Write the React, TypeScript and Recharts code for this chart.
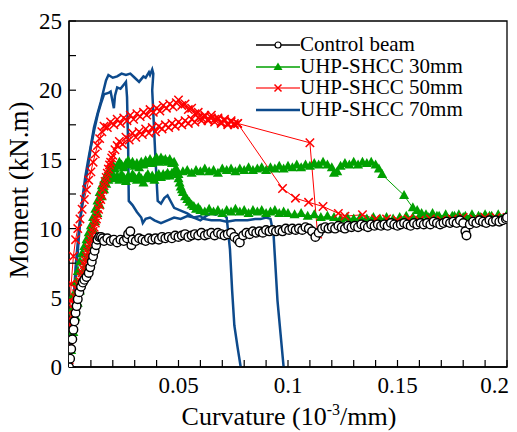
import React from "react";
import { ComposedChart, Line, XAxis, YAxis, Legend, ReferenceArea } from "recharts";

type Pt = [number, number];

const FONT = "'Liberation Serif', 'Times New Roman', serif";

// curvature (1e-3/mm), moment (kN.m)
const controlBeam: Pt[] = [
  [0, 0], [0.0005, 0.6], [0.001, 1.3], [0.0015, 2.0], [0.002, 2.7], [0.0025, 3.3], [0.003, 3.9],
  [0.0035, 4.4], [0.004, 4.9], [0.0047, 5.4], [0.0055, 5.8], [0.0063, 6.1], [0.007, 6.3], [0.008, 6.5],
  [0.009, 6.8], [0.0097, 7.2], [0.0104, 7.6], [0.011, 8.0], [0.0117, 8.4], [0.0124, 8.8], [0.013, 9.2],
  [0.0138, 9.4], [0.0146, 9.4], [0.0153, 9.3], [0.016, 9.1], [0.0175, 9.3], [0.019, 9.1], [0.0205, 9.2],
  [0.022, 9.0], [0.0235, 9.2], [0.025, 9.1], [0.0265, 9.3], [0.027, 9.6], [0.028, 9.8], [0.0285, 8.8],
  [0.029, 9.2], [0.0305, 9.1], [0.032, 9.3], [0.0335, 9.2], [0.035, 9.1], [0.0365, 9.3], [0.038, 9.2],
  [0.0395, 9.3], [0.041, 9.2], [0.0425, 9.4], [0.044, 9.3], [0.0455, 9.4], [0.047, 9.3], [0.0485, 9.5],
  [0.05, 9.4], [0.0515, 9.5], [0.053, 9.6], [0.0545, 9.4], [0.056, 9.5], [0.0575, 9.6], [0.059, 9.5],
  [0.0605, 9.7], [0.062, 9.5], [0.0635, 9.6], [0.065, 9.7], [0.0665, 9.5], [0.068, 9.7], [0.0695, 9.6],
  [0.071, 9.5], [0.0725, 9.6], [0.074, 9.7], [0.0755, 9.4], [0.077, 9.2], [0.078, 9.0], [0.0795, 9.5],
  [0.081, 9.7], [0.0825, 9.6], [0.084, 9.8], [0.0855, 9.7], [0.087, 9.8], [0.0885, 9.7], [0.09, 9.9],
  [0.0915, 9.8], [0.093, 9.9], [0.0945, 9.8], [0.096, 9.9], [0.0975, 9.8], [0.099, 10.0], [0.1005, 9.9],
  [0.102, 10.0], [0.1035, 9.9], [0.105, 10.0], [0.1065, 9.9], [0.108, 10.1], [0.1095, 10.0], [0.111, 9.8],
  [0.1125, 9.4], [0.114, 9.7], [0.1155, 10.0], [0.117, 10.1], [0.1185, 10.0], [0.12, 10.1], [0.1215, 10.0],
  [0.123, 10.2], [0.1245, 10.1], [0.126, 10.0], [0.1275, 10.2], [0.129, 10.1], [0.1305, 10.2], [0.132, 10.1],
  [0.1335, 10.3], [0.135, 10.2], [0.1365, 10.1], [0.138, 10.3], [0.1395, 10.2], [0.141, 10.3], [0.1425, 10.2],
  [0.144, 10.3], [0.1455, 10.2], [0.147, 10.4], [0.1485, 10.3], [0.15, 10.2], [0.1515, 10.3], [0.153, 10.4],
  [0.1545, 10.3], [0.156, 10.2], [0.1575, 10.4], [0.159, 10.3], [0.1605, 10.4], [0.162, 10.3], [0.1635, 10.4],
  [0.165, 10.3], [0.1665, 10.5], [0.168, 10.4], [0.1695, 10.3], [0.171, 10.4], [0.1725, 10.5], [0.174, 10.4],
  [0.1755, 10.5], [0.177, 10.4], [0.1785, 10.6], [0.18, 10.4], [0.181, 9.8], [0.1815, 9.5], [0.183, 10.3],
  [0.1845, 10.5], [0.186, 10.4], [0.1875, 10.6], [0.189, 10.5], [0.1905, 10.4], [0.192, 10.6], [0.1935, 10.5],
  [0.195, 10.6], [0.1965, 10.5], [0.198, 10.6], [0.1995, 10.7], [0.2, 10.8],
];

// UHP-SHCC 30mm, specimen dropping early
const shcc30a: Pt[] = [
  [0, 0], [0.0005, 2.5], [0.001, 4.0], [0.002, 5.2], [0.003, 6.1], [0.004, 6.9], [0.005, 7.6], [0.006, 8.2],
  [0.007, 8.7], [0.008, 9.2], [0.009, 9.7], [0.01, 10.2], [0.011, 10.8], [0.012, 11.4], [0.013, 12.0],
  [0.014, 12.6], [0.015, 13.1], [0.016, 13.5], [0.017, 13.8], [0.018, 14.1], [0.019, 14.4], [0.02, 14.6],
  [0.021, 14.3], [0.022, 14.5], [0.023, 14.8], [0.024, 14.6], [0.025, 14.4], [0.026, 14.7], [0.027, 14.9],
  [0.028, 14.6], [0.029, 14.8], [0.03, 14.5], [0.031, 14.7], [0.032, 14.4], [0.033, 14.8], [0.034, 14.6],
  [0.035, 14.9], [0.036, 14.7], [0.037, 15.0], [0.038, 14.7], [0.039, 14.9], [0.04, 15.1], [0.041, 14.8],
  [0.042, 15.1], [0.043, 14.9], [0.044, 15.0], [0.045, 14.8], [0.046, 15.0], [0.047, 14.7], [0.048, 14.8],
  [0.049, 14.3], [0.0495, 13.9], [0.05, 13.6], [0.0505, 13.3], [0.051, 13.0], [0.0515, 12.8], [0.052, 12.6],
  [0.053, 12.3], [0.054, 12.1], [0.055, 11.9], [0.056, 11.7], [0.057, 11.6], [0.058, 11.4], [0.059, 11.5],
  [0.06, 11.3], [0.062, 11.2], [0.064, 11.4], [0.066, 11.2], [0.068, 11.3], [0.07, 11.1], [0.072, 11.3],
  [0.074, 11.2], [0.076, 11.4], [0.078, 11.2], [0.08, 11.3], [0.082, 11.1], [0.084, 11.3], [0.086, 11.2],
  [0.088, 11.3], [0.09, 11.1], [0.092, 11.2], [0.094, 11.3], [0.096, 11.1], [0.098, 11.2], [0.1, 11.1],
  [0.103, 11.0], [0.106, 11.1], [0.109, 10.9], [0.112, 11.0], [0.115, 10.8], [0.118, 10.9], [0.121, 10.8],
  [0.124, 10.7], [0.127, 10.8], [0.13, 10.7], [0.133, 10.8], [0.136, 10.7], [0.139, 10.8], [0.142, 10.7],
  [0.145, 10.8], [0.148, 10.7], [0.151, 10.8], [0.154, 10.9], [0.157, 10.8], [0.16, 10.9], [0.164, 10.8],
  [0.168, 10.9], [0.172, 10.8], [0.176, 10.9], [0.18, 10.8], [0.184, 10.9], [0.188, 10.8], [0.192, 10.9],
  [0.196, 10.9], [0.2, 10.9],
];

// UHP-SHCC 30mm, specimen holding to 0.14
const shcc30b: Pt[] = [
  [0, 0], [0.001, 1.2], [0.002, 2.5], [0.003, 3.6], [0.004, 4.6], [0.005, 5.5], [0.006, 6.3], [0.007, 7.1],
  [0.008, 7.9], [0.009, 8.6], [0.01, 9.3], [0.011, 9.9], [0.012, 10.5], [0.013, 11.1], [0.014, 11.7],
  [0.015, 12.3], [0.016, 12.8], [0.017, 13.2], [0.018, 13.5], [0.019, 13.7], [0.02, 13.9], [0.021, 13.6],
  [0.022, 13.8], [0.023, 13.5], [0.024, 13.9], [0.025, 13.7], [0.026, 13.4], [0.027, 13.8], [0.028, 13.6],
  [0.029, 13.9], [0.03, 13.7], [0.031, 13.5], [0.032, 13.8], [0.033, 13.6], [0.034, 13.3], [0.035, 13.7],
  [0.036, 13.9], [0.037, 13.6], [0.038, 13.8], [0.039, 13.5], [0.04, 13.8], [0.041, 13.9], [0.042, 13.7],
  [0.043, 13.9], [0.044, 13.8], [0.045, 14.0], [0.046, 13.8], [0.047, 14.0], [0.048, 14.1], [0.05, 13.9],
  [0.052, 14.1], [0.054, 14.2], [0.056, 14.0], [0.058, 14.2], [0.06, 14.1], [0.062, 14.3], [0.064, 14.1],
  [0.066, 14.2], [0.068, 14.0], [0.07, 14.3], [0.072, 14.2], [0.074, 14.3], [0.076, 14.1], [0.078, 14.3],
  [0.08, 14.2], [0.082, 14.4], [0.084, 14.2], [0.086, 14.3], [0.088, 14.4], [0.09, 14.2], [0.092, 14.4],
  [0.094, 14.3], [0.096, 14.5], [0.098, 14.3], [0.1, 14.5], [0.102, 14.4], [0.104, 14.6], [0.106, 14.4],
  [0.108, 14.6], [0.11, 14.5], [0.112, 14.7], [0.114, 14.6], [0.116, 14.8], [0.118, 14.6], [0.12, 14.4],
  [0.121, 14.0], [0.1225, 14.1], [0.124, 14.5], [0.126, 14.7], [0.128, 14.6], [0.13, 14.8], [0.132, 14.6],
  [0.134, 14.8], [0.136, 14.7], [0.138, 14.8], [0.14, 14.6], [0.1415, 14.3], [0.143, 13.9], [0.153, 12.4],
  [0.157, 11.5], [0.159, 11.3], [0.161, 11.1], [0.163, 11.0], [0.166, 11.1], [0.169, 10.9], [0.172, 11.0],
  [0.175, 10.9], [0.178, 11.0], [0.181, 10.9], [0.184, 11.0], [0.187, 10.9], [0.19, 11.0], [0.193, 10.9],
  [0.196, 11.0], [0.2, 11.0],
];

// UHP-SHCC 50mm, specimen peaking at 19.2
const shcc50a: Pt[] = [
  [0, 0], [0.0003, 3.0], [0.0006, 4.8], [0.001, 6.0], [0.002, 8.0], [0.003, 9.2], [0.004, 10.0], [0.005, 10.7],
  [0.006, 11.4], [0.007, 12.1], [0.008, 12.8], [0.009, 13.5], [0.01, 14.1], [0.011, 14.8], [0.012, 15.4],
  [0.013, 16.0], [0.014, 16.5], [0.015, 17.0], [0.016, 17.4], [0.0175, 17.3], [0.019, 17.7], [0.0205, 17.5],
  [0.022, 17.9], [0.0235, 17.6], [0.025, 18.0], [0.0265, 17.8], [0.028, 18.2], [0.0295, 17.9], [0.031, 18.3],
  [0.0325, 18.1], [0.034, 18.4], [0.0355, 18.2], [0.037, 18.6], [0.0385, 18.4], [0.04, 18.7], [0.0415, 18.5],
  [0.043, 18.9], [0.0445, 18.7], [0.046, 19.0], [0.0475, 18.8], [0.049, 19.1], [0.05, 19.3], [0.0515, 18.9],
  [0.053, 19.0], [0.0545, 18.6], [0.056, 18.7], [0.0575, 18.3], [0.059, 18.4], [0.0605, 18.0], [0.062, 18.2],
  [0.0635, 17.8], [0.065, 18.0], [0.0665, 17.7], [0.068, 17.9], [0.0695, 17.6], [0.071, 17.8], [0.0725, 17.5],
  [0.074, 17.7], [0.0755, 17.6], [0.077, 17.6], [0.11, 16.2], [0.1135, 9.6],
];

// UHP-SHCC 50mm, second specimen
const shcc50b: Pt[] = [
  [0, 0], [0.0005, 1.5], [0.001, 3.0], [0.0015, 3.7], [0.002, 4.2], [0.0025, 4.6], [0.003, 5.0], [0.0035, 5.3],
  [0.004, 5.6], [0.0045, 5.9], [0.005, 6.2], [0.0055, 6.5], [0.006, 6.8], [0.0065, 7.1], [0.007, 7.4],
  [0.0075, 7.7], [0.008, 8.0], [0.0085, 8.3], [0.009, 8.6], [0.0095, 8.9], [0.01, 9.2], [0.0105, 9.5],
  [0.011, 9.8], [0.0115, 10.1], [0.012, 10.4], [0.0125, 10.7], [0.013, 11.0], [0.0135, 11.4], [0.014, 11.7],
  [0.0145, 12.1], [0.015, 12.4], [0.0155, 12.8], [0.016, 13.1], [0.0165, 13.4], [0.017, 13.7], [0.0175, 14.0],
  [0.018, 14.3], [0.0185, 14.6], [0.019, 14.8], [0.0195, 15.1], [0.02, 15.3], [0.021, 15.7], [0.022, 16.0],
  [0.023, 16.3], [0.0245, 16.1], [0.026, 16.6], [0.0275, 16.4], [0.029, 16.9], [0.0305, 16.6], [0.032, 17.0],
  [0.0335, 16.8], [0.035, 17.2], [0.0365, 16.9], [0.038, 17.3], [0.0395, 17.0], [0.041, 17.4], [0.0425, 17.2],
  [0.044, 17.5], [0.0455, 17.3], [0.047, 17.6], [0.0485, 17.4], [0.05, 17.7], [0.0515, 17.5], [0.053, 17.8],
  [0.0545, 17.6], [0.056, 17.9], [0.0575, 17.7], [0.059, 18.0], [0.0605, 17.8], [0.062, 18.1], [0.0635, 17.9],
  [0.065, 18.2], [0.0665, 17.9], [0.068, 18.0], [0.0695, 17.7], [0.071, 17.9], [0.0725, 17.6], [0.074, 17.8],
  [0.0755, 17.5], [0.077, 17.6], [0.0975, 12.9], [0.1034, 12.2], [0.1094, 11.9], [0.116, 11.6], [0.123, 11.1],
  [0.126, 10.9], [0.134, 11.0], [0.14, 10.7], [0.145, 10.7], [0.15, 10.6], [0.155, 10.7], [0.16, 10.6],
  [0.165, 10.7], [0.17, 10.6], [0.175, 10.7], [0.18, 10.8], [0.185, 10.7], [0.19, 10.8], [0.195, 10.8],
  [0.2, 10.8],
];

// UHP-SHCC 70mm, specimen peaking at 21.5
const shcc70a: Pt[] = [
  [0, 0], [0.001, 1.5], [0.002, 3.8], [0.0023, 4.8], [0.003, 6.5], [0.004, 8.3], [0.0046, 9.6], [0.0055, 11.2],
  [0.0064, 12.5], [0.0075, 13.8], [0.0087, 14.9], [0.01, 16.0], [0.0114, 17.3], [0.013, 18.3], [0.0146, 19.2],
  [0.0158, 20.0], [0.0169, 20.7], [0.018, 21.1], [0.02, 20.9], [0.022, 21.0], [0.024, 21.2], [0.026, 21.1],
  [0.028, 21.2], [0.03, 20.9], [0.032, 20.6], [0.033, 20.8], [0.034, 21.0], [0.035, 20.9], [0.0365, 21.3],
  [0.037, 21.1], [0.038, 21.5], [0.0385, 21.2], [0.038, 20.0], [0.0395, 15.0], [0.0405, 12.0], [0.042, 11.8],
  [0.0435, 12.2], [0.045, 12.4], [0.048, 11.5], [0.051, 11.3], [0.054, 11.1], [0.057, 10.8], [0.06, 10.6],
  [0.0625, 10.9], [0.0647, 11.1], [0.067, 11.0], [0.069, 11.2], [0.072, 10.8], [0.0735, 8.5], [0.0745, 5.5],
  [0.0755, 3.0], [0.077, 1.4], [0.0784, 0],
];

// UHP-SHCC 70mm, second specimen
const shcc70b: Pt[] = [
  [0, 0], [0.001, 2.0], [0.002, 4.5], [0.003, 7.2], [0.004, 9.0], [0.0055, 11.1], [0.0065, 12.3], [0.0077, 13.5],
  [0.009, 14.8], [0.01, 15.9], [0.0115, 17.1], [0.0132, 18.3], [0.0145, 19.0], [0.016, 19.7], [0.018, 19.8],
  [0.019, 19.9], [0.0205, 18.7], [0.021, 19.6], [0.022, 20.2], [0.0235, 20.1], [0.025, 20.4], [0.026, 20.6],
  [0.0265, 19.5], [0.027, 16.0], [0.0273, 12.0], [0.029, 11.7], [0.031, 11.2], [0.033, 10.8], [0.0337, 10.4],
  [0.035, 10.7], [0.037, 10.8], [0.039, 10.6], [0.042, 10.4], [0.045, 10.6], [0.048, 10.8], [0.051, 10.7],
  [0.054, 10.9], [0.057, 10.8], [0.06, 10.9], [0.0615, 10.7], [0.065, 10.6], [0.069, 10.6], [0.072, 10.5],
  [0.076, 10.6], [0.0815, 10.6], [0.085, 10.7], [0.0875, 10.7], [0.09, 10.8], [0.092, 10.7], [0.0934, 9.6],
  [0.0952, 4.8], [0.0966, 2.4], [0.098, 0],
];

const xMajorTicks = [0.05, 0.1, 0.15, 0.2];
const xMinorTicks = [
  0, 0.01, 0.02, 0.03, 0.04, 0.05, 0.06, 0.07, 0.08, 0.09, 0.1,
  0.11, 0.12, 0.13, 0.14, 0.15, 0.16, 0.17, 0.18, 0.19, 0.2,
];
const yMajorTicks = [0, 5, 10, 15, 20, 25];
const yMinorTicks = [0, 2.5, 5, 7.5, 10, 12.5, 15, 17.5, 20, 22.5, 25];

const legendItems = [
  { label: "Control beam", color: "#000000", marker: "circle" },
  { label: "UHP-SHCC 30mm", color: "#00a000", marker: "triangle" },
  { label: "UHP-SHCC 50mm", color: "#ff3c3c", marker: "cross" },
  { label: "UHP-SHCC 70mm", color: "#0d4a8c", marker: "none" },
];

const toRows = (pts: Pt[]) => pts.map(([c, m]) => ({ c, m }));

const CircleDot = (p: any) => {
  if (p.cx == null || p.cy == null) return <g key={p.index} />;
  return <circle key={p.index} cx={p.cx} cy={p.cy} r={4.3} fill="#fff" stroke="#000" strokeWidth={1.4} />;
};

const TriangleDot = (p: any) => {
  if (p.cx == null || p.cy == null) return <g key={p.index} />;
  const { cx, cy } = p;
  return (
    <polygon
      key={p.index}
      points={`${cx},${cy - 5.5} ${cx - 5},${cy + 3.5} ${cx + 5},${cy + 3.5}`}
      fill="#00a000"
    />
  );
};

const CrossDot = (p: any) => {
  if (p.cx == null || p.cy == null) return <g key={p.index} />;
  const { cx, cy } = p;
  const s = 4.2;
  return (
    <path
      key={p.index}
      d={`M${cx - s},${cy - s}L${cx + s},${cy + s}M${cx - s},${cy + s}L${cx + s},${cy - s}`}
      stroke="#ff0000"
      strokeWidth={1.5}
      fill="none"
    />
  );
};

const XTick = (props: any) => {
  const { x, y, payload } = props;
  const v = payload.value;
  if (!xMajorTicks.some((t) => Math.abs(t - v) < 1e-9)) return <g />;
  const last = Math.abs(v - 0.2) < 1e-9;
  return (
    <text
      x={last ? x + 2 : x}
      y={y}
      dy="0.71em"
      textAnchor={last ? "end" : "middle"}
      fill="#000"
      fontSize={23}
      fontFamily={FONT}
    >
      {String(v)}
    </text>
  );
};

const LegendMarker = ({ kind, color }: { kind: string; color: string }) => {
  if (kind === "circle") return <circle cx={22} cy={11} r={3} fill="#fff" stroke={color} strokeWidth={1.2} />;
  if (kind === "triangle") return <polygon points="22,6.5 17.5,14 26.5,14" fill={color} />;
  if (kind === "cross")
    return <path d="M18.5,7.5L25.5,14.5M18.5,14.5L25.5,7.5" stroke="#ff0000" strokeWidth={1.5} />;
  return null;
};

const renderLegend = () => (
  <div style={{ fontFamily: FONT, fontSize: 21, color: "#000" }}>
    {legendItems.map((item) => (
      <div key={item.label} style={{ display: "flex", alignItems: "center", height: 21.5, whiteSpace: "nowrap" }}>
        <svg width={44} height={21.5} style={{ display: "block" }}>
          <line x1={0} x2={44} y1={11} y2={11} stroke={item.color} strokeWidth={item.marker === "none" ? 2.5 : 1.5} />
          <LegendMarker kind={item.marker} color={item.color} />
        </svg>
        <span style={{ display: "inline-block", height: 21.5, lineHeight: "21.5px" }}>{item.label}</span>
      </div>
    ))}
  </div>
);

const tickStyle = { fill: "#000", fontSize: 23, fontFamily: FONT };
const axisStroke = { stroke: "#000", strokeWidth: 1.3 };
const tickStroke = { stroke: "#000", strokeWidth: 1.2 };

export default function App() {
  const W = 509;
  const H = 424;
  return (
    <div style={{ position: "relative", width: W, height: H }}>
      <ComposedChart width={W} height={H} margin={{ top: 13, right: 10, bottom: 0, left: 0 }}>
        <XAxis
          xAxisId="x"
          dataKey="c"
          type="number"
          domain={[0, 0.2]}
          allowDataOverflow
          ticks={xMinorTicks}
          interval={0}
          tick={XTick}
          tickLine={tickStroke}
          tickSize={-7}
          tickMargin={17}
          height={65}
          axisLine={axisStroke}
        />
        <XAxis
          xAxisId="xTop"
          dataKey="c"
          type="number"
          orientation="top"
          domain={[0, 0.2]}
          allowDataOverflow
          ticks={xMinorTicks}
          interval={0}
          tick={false}
          tickSize={-7}
          height={0}
          tickLine={tickStroke}
          axisLine={axisStroke}
        />
        <YAxis
          yAxisId="y"
          type="number"
          domain={[0, 25]}
          allowDataOverflow
          ticks={yMinorTicks}
          interval={0}
          tickFormatter={(v: number) => (yMajorTicks.includes(v) ? String(v) : "")}
          tick={tickStyle}
          tickLine={tickStroke}
          tickSize={-7}
          tickMargin={14}
          width={61}
          axisLine={axisStroke}
        />
        <YAxis
          yAxisId="yRight"
          type="number"
          orientation="right"
          domain={[0, 25]}
          allowDataOverflow
          ticks={yMinorTicks}
          interval={0}
          tick={false}
          tickSize={-7}
          width={0}
          tickLine={tickStroke}
          axisLine={axisStroke}
        />
        <ReferenceArea
          xAxisId="x"
          yAxisId="y"
          x1={0}
          x2={0.2}
          y1={0}
          y2={25}
          fill="none"
          stroke="#000"
          strokeWidth={1.3}
          ifOverflow="visible"
        />
        <Legend
          content={renderLegend}
          layout="horizontal"
          verticalAlign="middle"
          align="center"
          wrapperStyle={{ left: 248, top: 26, width: 240 }}
        />

        <Line xAxisId="xTop" yAxisId="yRight" data={toRows(controlBeam)} dataKey="m" type="linear" stroke="none"
          dot={false} activeDot={false} isAnimationActive={false} legendType="none" />
        <Line xAxisId="x" yAxisId="y" data={toRows(shcc30a)} dataKey="m" type="linear" stroke="#00a000"
          strokeWidth={1} dot={TriangleDot} activeDot={false} isAnimationActive={false} legendType="none" />
        <Line xAxisId="x" yAxisId="y" data={toRows(shcc30b)} dataKey="m" type="linear" stroke="#00a000"
          strokeWidth={1} dot={TriangleDot} activeDot={false} isAnimationActive={false} legendType="none" />
        <Line xAxisId="x" yAxisId="y" data={toRows(shcc50a)} dataKey="m" type="linear" stroke="#ff0000"
          strokeWidth={1} dot={CrossDot} activeDot={false} isAnimationActive={false} legendType="none" />
        <Line xAxisId="x" yAxisId="y" data={toRows(shcc50b)} dataKey="m" type="linear" stroke="#ff0000"
          strokeWidth={1} dot={CrossDot} activeDot={false} isAnimationActive={false} legendType="none" />
        <Line xAxisId="x" yAxisId="y" data={toRows(shcc70a)} dataKey="m" type="linear" stroke="#0d4a8c"
          strokeWidth={2.5} dot={false} activeDot={false} isAnimationActive={false} legendType="none" />
        <Line xAxisId="x" yAxisId="y" data={toRows(shcc70b)} dataKey="m" type="linear" stroke="#0d4a8c"
          strokeWidth={2.5} dot={false} activeDot={false} isAnimationActive={false} legendType="none" />
        <Line xAxisId="x" yAxisId="y" data={toRows(controlBeam)} dataKey="m" type="linear" stroke="#000"
          strokeWidth={1.3} dot={CircleDot} activeDot={false} isAnimationActive={false} legendType="none" />
      </ComposedChart>
      <svg
        width={517}
        height={432}
        style={{ position: "absolute", left: -8, top: -8, pointerEvents: "none" }}
      >
        <text
          x={28}
          y={190}
          transform="rotate(-90 28 190)"
          textAnchor="middle"
          fontFamily={FONT}
          fontSize={27}
          fill="#000"
        >
          Moment (kN.m)
        </text>
        <text x={289} y={425} textAnchor="middle" fontFamily={FONT} fontSize={26} fill="#000">
          Curvature (10
          <tspan dy={-10} fontSize={16}>-3</tspan>
          <tspan dy={10}>/mm)</tspan>
        </text>
      </svg>
    </div>
  );
}
